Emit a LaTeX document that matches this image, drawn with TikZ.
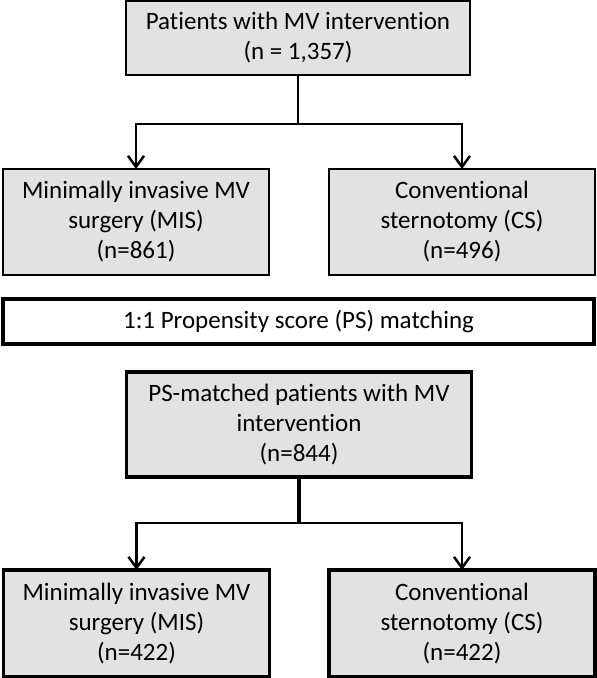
\documentclass[tikz,border=0pt]{standalone}
\usepackage{fontspec}
\setmainfont{Carlito}[Ligatures=NoCommon]
\usetikzlibrary{arrows.meta}
\definecolor{boxgray}{RGB}{226,226,226}
\begin{document}
\begin{tikzpicture}[x=1pt,y=-1pt,
  txt/.style={font=\fontsize{25}{30}\selectfont, align=center, inner sep=0pt, outer sep=0pt},
  thinbox/.style={txt, draw=black, fill=boxgray, line width=1.6pt},
  thickbox/.style={txt, draw=black, fill=boxgray, line width=3.6pt},
  bannerbox/.style={txt, draw=black, fill=white, line width=3.6pt},
  conn/.style={line width=2.5pt, line join=miter},
  connthick/.style={line width=3.2pt, line join=miter},
  arr/.style={-{Straight Barb[length=11pt,width=16pt,line join=miter]}}
]
\useasboundingbox (0,0) rectangle (597,678);
\fill[white] (0,0) rectangle (597,678);

\node[thinbox, minimum width=344pt, minimum height=74pt] (top) at (298,38)
  {Patients with MV intervention\\(n = 1,357)};
\node[thinbox, minimum width=266pt, minimum height=106pt] (mis1) at (136,222)
  {Minimally invasive MV\\surgery (MIS)\\(n=861)};
\node[thinbox, minimum width=266pt, minimum height=106pt] (cs1) at (462,222)
  {Conventional\\sternotomy (CS)\\(n=496)};

\node[bannerbox, minimum width=591pt, minimum height=45pt] (banner) at (298.5,321.5)
  {1:1 Propensity score (PS) matching};

\node[thickbox, minimum width=345pt, minimum height=105pt] (ps) at (299,424.5)
  {PS-matched patients with MV\\intervention\\(n=844)};
\node[thickbox, minimum width=266pt, minimum height=107pt] (mis2) at (136.5,623.5)
  {Minimally invasive MV\\surgery (MIS)\\(n=422)};
\node[thickbox, minimum width=266pt, minimum height=107pt] (cs2) at (462,623.5)
  {Conventional\\sternotomy (CS)\\(n=422)};

\coordinate (j1) at (298,124);
\coordinate (j2) at (299,523);

\draw[conn] (top.south) -- (j1);
\draw[conn, arr] (j1) -| (mis1.north);
\draw[conn, arr] (j1) -| (cs1.north);

\draw[connthick] (ps.south) -- (j2);
\draw[conn, arr] (j2) -| (mis2.north);
\draw[conn, arr] (j2) -| (cs2.north);
\end{tikzpicture}
\end{document}
